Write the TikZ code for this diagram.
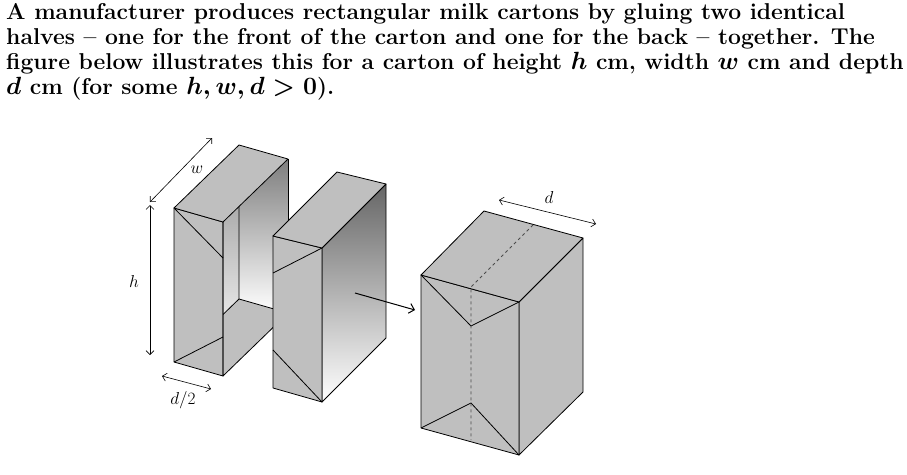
\documentclass[tikz,border=0pt]{standalone}
\usetikzlibrary{arrows.meta}
\begin{document}
\begin{tikzpicture}[x=1pt,y=-1pt,
  edge/.style={line width=0.8pt,line join=round},
  face/.style={fill=black!25,edge},
  dim/.style={line width=0.6pt,{Straight Barb[length=4pt]}-{Straight Barb[length=4pt]}},
  lab/.style={font=\LARGE}]
\useasboundingbox (0,0) rectangle (907,474);
\node[anchor=north west,align=left,inner sep=0pt,font=\fontsize{22.9}{25}\selectfont\bfseries\boldmath] (txt) at (6,3)
{A manufacturer produces rectangular milk cartons by gluing two identical\\
halves -- one for the front of the carton and one for the back -- together. The\\
figure below illustrates this for a carton of height $h$ cm, width $w$ cm and depth\\
$d$ cm (for some $h,w,d>0$).};
% ---- left half (open on right side)
\coordinate (A) at (174,208); \coordinate (B) at (223,222);
\coordinate (C) at (223,376); \coordinate (D) at (174,362);
\coordinate (A2) at (239,145); \coordinate (B2) at (288,159);
\coordinate (C2) at (288,313); \coordinate (D2) at (239,299);
\begin{scope}
\clip (B) -- (B2) -- (C2) -- (C) -- cycle;
\shade[top color=black!45,bottom color=white] (A) -- (A2) -- (D2) -- (D) -- cycle;
\shade[top color=black!55,bottom color=white] (A2) -- (B2) -- (C2) -- (D2) -- cycle;
\fill[black!25] (D) -- (C) -- (C2) -- (D2) -- cycle;
\draw[edge] (A2) -- (D2) -- (C2) (D2) -- (D);
\end{scope}
\draw[face] (A) -- (B) -- (C) -- (D) -- cycle;
\draw[edge] (A) -- (223,258) (D) -- (223,337);
\draw[face] (A) -- (A2) -- (B2) -- (B) -- cycle;
\draw[edge] (B) -- (C) -- (C2);
\draw[edge] (B2) -- (C2);
% ---- second half
\coordinate (E) at (273,236); \coordinate (F) at (322,248);
\coordinate (E2) at (337,172); \coordinate (F2) at (386,184);
\coordinate (G) at (273,388); \coordinate (H) at (322,402);
\coordinate (H2) at (386,338);
\shade[top color=black!60,bottom color=white,edge,draw] (F) -- (F2) -- (H2) -- (H) -- cycle;
\draw[face] (E) -- (F) -- (H) -- (G) -- cycle;
\draw[edge] (F) -- (273,273) (273,350) -- (H);
\draw[face] (E) -- (E2) -- (F2) -- (F) -- cycle;
% arrow
\coordinate (ar1) at (355,293); \coordinate (ar2) at (415,310);
\draw[line width=1pt,-{Straight Barb[length=5pt]}] (ar1) -- (ar2);
% ---- full carton
\coordinate (P) at (421,275); \coordinate (Q) at (519,302);
\coordinate (P2) at (484,211); \coordinate (Q2) at (583,238);
\coordinate (R) at (421,428); \coordinate (S) at (519,455);
\coordinate (S2) at (583,392);
\draw[face] (Q) -- (Q2) -- (S2) -- (S) -- cycle;
\draw[face] (P) -- (Q) -- (S) -- (R) -- cycle;
\draw[face] (P) -- (P2) -- (Q2) -- (Q) -- cycle;
\draw[edge] (P) -- (471,326) -- (Q) (R) -- (471,403) -- (S);
\draw[edge,dashed,black!70] (533,225) -- (471,287) -- (471,440);
% ---- dimensions
\coordinate (w1) at (150,202); \coordinate (w2) at (212,138);
\draw[dim] (w1) -- (w2);
\node[lab] (wl) at (197,170) {$w$};
\coordinate (h1) at (150,205); \coordinate (h2) at (150,355);
\draw[dim] (h1) -- (h2);
\node[lab] (hl) at (134,281) {$h$};
\coordinate (d1) at (162,376); \coordinate (d2) at (211,389);
\draw[dim] (d1) -- (d2);
\node[lab] (dl) at (183,400) {$d/2$};
\coordinate (e1) at (499,200); \coordinate (e2) at (596,224);
\draw[dim] (e1) -- (e2);
\node[lab] (el) at (549,197) {$d$};
\end{tikzpicture}
\end{document}
